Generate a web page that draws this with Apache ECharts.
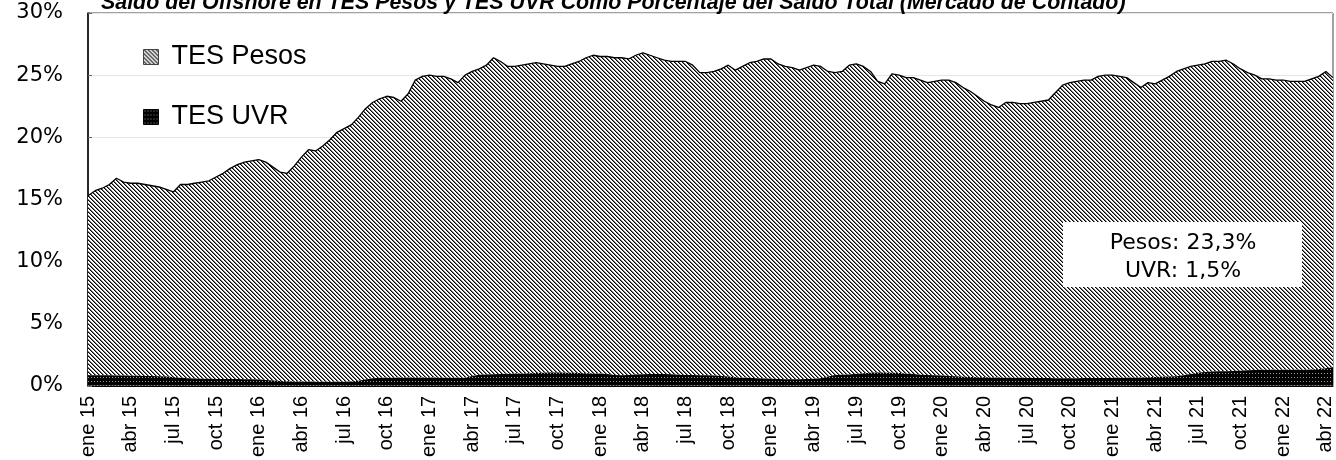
<!DOCTYPE html>
<html>
<head>
<meta charset="utf-8">
<script src="https://cdn.jsdelivr.net/npm/echarts@6/dist/echarts.min.js"></script>
<style>
  html, body { margin: 0; padding: 0; background: #fff; }
  #chart { width: 1336px; height: 460px; }
</style>
</head>
<body>
<div id="chart"></div>
<script>
// Spanish month names for the quarterly tick labels
const meses = ['ene', 'feb', 'mar', 'abr', 'may', 'jun', 'jul', 'ago', 'sep', 'oct', 'nov', 'dic'];

// TES UVR share of total (%), two readings per month, ene 15 .. abr 22
const uvr = [
  0.86, 0.86, 0.85, 0.85, 0.84, 0.83, 0.82, 0.82, 0.80, 0.79, 0.78, 0.76,
  0.72, 0.66, 0.60, 0.58, 0.57, 0.56, 0.55, 0.55, 0.55, 0.54, 0.53, 0.52,
  0.50, 0.47, 0.42, 0.38, 0.36, 0.35, 0.34, 0.34, 0.33, 0.33, 0.32, 0.32,
  0.33, 0.35, 0.40, 0.50, 0.60, 0.65, 0.66, 0.66, 0.67, 0.67, 0.68, 0.68,
  0.68, 0.67, 0.66, 0.65, 0.64, 0.64, 0.80, 0.90, 0.92, 0.93, 0.95, 0.97,
  0.99, 1.00, 1.02, 1.04, 1.06, 1.07, 1.07, 1.06, 1.05, 1.04, 1.02, 1.00,
  1.00, 0.95, 0.88, 0.86, 0.88, 0.92, 0.94, 0.96, 0.96, 0.95, 0.93, 0.90,
  0.88, 0.87, 0.86, 0.86, 0.84, 0.80, 0.75, 0.70, 0.66, 0.64, 0.60, 0.58,
  0.56, 0.54, 0.53, 0.53, 0.53, 0.54, 0.56, 0.60, 0.75, 0.88, 0.90, 0.92,
  0.98, 1.02, 1.05, 1.07, 1.06, 1.05, 1.04, 1.00, 0.95, 0.90, 0.88, 0.86,
  0.83, 0.80, 0.77, 0.74, 0.72, 0.70, 0.69, 0.68, 0.67, 0.66, 0.66, 0.65,
  0.64, 0.63, 0.62, 0.62, 0.61, 0.61, 0.61, 0.61, 0.62, 0.62, 0.62, 0.63,
  0.64, 0.65, 0.66, 0.67, 0.68, 0.70, 0.72, 0.74, 0.76, 0.78, 0.85, 0.95,
  1.05, 1.12, 1.15, 1.17, 1.18, 1.20, 1.22, 1.25, 1.28, 1.30, 1.30, 1.30,
  1.30, 1.30, 1.30, 1.30, 1.32, 1.35, 1.42, 1.50
];

// TES Pesos share of total (%), stacked on top of UVR
const pesos = [
  14.44, 14.84, 15.05, 15.35, 15.86, 15.57, 15.48, 15.48, 15.40, 15.31, 15.22, 15.04,
  14.88, 15.54, 15.60, 15.72, 15.83, 15.94, 16.25, 16.55, 16.95, 17.26, 17.47, 17.58,
  17.70, 17.53, 17.18, 16.82, 16.74, 17.35, 18.06, 18.66, 18.57, 18.97, 19.48, 20.08,
  20.37, 20.65, 21.20, 21.80, 22.20, 22.45, 22.64, 22.54, 22.23, 22.83, 23.92, 24.22,
  24.32, 24.23, 24.24, 24.05, 23.76, 24.36, 24.50, 24.60, 24.88, 25.47, 25.15, 24.73,
  24.71, 24.80, 24.88, 24.96, 24.84, 24.73, 24.63, 24.64, 24.85, 25.06, 25.38, 25.60,
  25.50, 25.55, 25.52, 25.54, 25.42, 25.68, 25.86, 25.64, 25.44, 25.25, 25.17, 25.20,
  25.22, 24.93, 24.34, 24.34, 24.46, 24.70, 25.05, 24.70, 25.04, 25.36, 25.50, 25.72,
  25.74, 25.36, 25.17, 25.07, 24.87, 25.06, 25.24, 25.10, 24.55, 24.32, 24.40, 24.88,
  24.92, 24.68, 24.25, 23.43, 23.24, 24.05, 23.96, 23.80, 23.85, 23.70, 23.52, 23.64,
  23.77, 23.80, 23.63, 23.26, 22.98, 22.60, 22.21, 21.92, 21.73, 22.14, 22.14, 22.05,
  22.06, 22.17, 22.28, 22.38, 22.99, 23.59, 23.79, 23.89, 23.98, 23.98, 24.28, 24.37,
  24.36, 24.25, 24.14, 23.73, 23.32, 23.70, 23.58, 23.86, 24.14, 24.52, 24.65, 24.75,
  24.75, 24.78, 24.95, 24.93, 25.02, 24.70, 24.28, 23.95, 23.72, 23.40, 23.40, 23.30,
  23.30, 23.20, 23.20, 23.20, 23.38, 23.55, 23.88, 23.30
];

const seriesNames = ['TES Pesos', 'TES UVR'];
const boxLines = ['Pesos: 23,3%', 'UVR: 1,5%'];
const titleText = 'Saldo del Offshore en TES Pesos y TES UVR Como Porcentaje del Saldo Total (Mercado de Contado)';

// two category slots per month; label "mes yy" on the first half only
const categories = [];
for (let y = 15; y <= 22; y++) {
  for (let m = 0; m < 12; m++) {
    if (y === 22 && m > 3) break;
    categories.push(meses[m] + ' ' + y + '|a');
    categories.push(meses[m] + ' ' + y + '|b');
  }
}

// fill patterns
function hatchPattern() {
  const n = 4;
  const c = document.createElement('canvas');
  c.width = n; c.height = n;
  const ctx = c.getContext('2d');
  ctx.fillStyle = '#fff';
  ctx.fillRect(0, 0, n, n);
  for (let y = 0; y < n; y++) {
    for (let x = 0; x < n; x++) {
      const d = ((x - y) % n + n) % n;
      if (d === 0) { ctx.fillStyle = '#000'; ctx.fillRect(x, y, 1, 1); }
      if (d === 1) { ctx.fillStyle = '#777'; ctx.fillRect(x, y, 1, 1); }
    }
  }
  return { image: c, repeat: 'repeat' };
}
function dotPattern() {
  const c = document.createElement('canvas');
  c.width = 3; c.height = 4;
  const ctx = c.getContext('2d');
  ctx.fillStyle = '#000';
  ctx.fillRect(0, 0, 3, 4);
  ctx.fillStyle = '#9a9a9a';
  ctx.fillRect(1, 1, 1, 1);
  return { image: c, repeat: 'repeat' };
}
const hatch = hatchPattern();
const dots = dotPattern();

const chart = echarts.init(document.getElementById('chart'), null, { renderer: 'canvas' });
const font = 'Liberation Sans, Arial, sans-serif';
const wideFont = 'DejaVu Sans, sans-serif';

chart.setOption({
  animation: false,
  title: {
    text: titleText,
    left: 96,
    top: -12,
    textStyle: { fontFamily: font, fontSize: 21.4, fontWeight: 'bold', fontStyle: 'italic', color: '#000' }
  },
  legend: {
    orient: 'vertical',
    left: 138,
    top: 36,
    itemGap: 28,
    itemWidth: 15,
    itemHeight: 15,
    icon: 'rect',
    textStyle: { fontFamily: font, fontSize: 27, color: '#000', lineHeight: 32, padding: [0, 0, 0, 8] },
    data: [
      { name: seriesNames[0], itemStyle: { color: hatch, borderColor: '#444', borderWidth: 1 } },
      { name: seriesNames[1], itemStyle: { color: dots, borderColor: '#000', borderWidth: 1 } }
    ]
  },
  grid: {
    left: 88, right: 3, top: 13, bottom: 73,
    show: true, borderColor: '#444', borderWidth: 1, backgroundColor: 'transparent'
  },
  xAxis: {
    type: 'category',
    data: categories,
    boundaryGap: false,
    axisLine: { lineStyle: { color: '#000', width: 1 } },
    axisTick: { show: false },
    axisLabel: {
      rotate: 90,
      margin: 10,
      interval: (idx) => idx % 6 === 0,
      formatter: (v) => v.split('|')[0],
      fontFamily: font,
      fontSize: 20,
      color: '#000'
    },
    splitLine: { show: false }
  },
  yAxis: {
    type: 'value',
    min: 0,
    max: 30,
    interval: 5,
    axisLine: { show: true, lineStyle: { color: '#000', width: 1.5 } },
    axisTick: { show: true, inside: true, length: 4, lineStyle: { color: '#666' } },
    axisLabel: {
      formatter: '{value}%',
      margin: 25,
      fontFamily: wideFont,
      fontSize: 21,
      color: '#000'
    },
    splitLine: { show: true, lineStyle: { color: '#e6e6e6', width: 1 } }
  },
  series: [
    {
      name: seriesNames[1],
      type: 'line',
      stack: 'saldo',
      data: uvr,
      showSymbol: false,
      lineStyle: { width: 0, color: '#000' },
      itemStyle: { color: '#000' },
      areaStyle: { color: dots, opacity: 1 },
      z: 3
    },
    {
      name: seriesNames[0],
      type: 'line',
      stack: 'saldo',
      data: pesos,
      showSymbol: false,
      lineStyle: { width: 1.3, color: '#000' },
      itemStyle: { color: '#666' },
      areaStyle: { color: hatch, opacity: 1 },
      z: 2
    }
  ],
  graphic: [
    {
      type: 'group',
      left: 1063,
      top: 222,
      z: 100,
      children: [
        { type: 'rect', z: 100, shape: { x: 0, y: 0, width: 239, height: 65 }, style: { fill: '#fff' } },
        {
          type: 'text', z: 101, x: 120, y: 21,
          style: { text: boxLines[0], font: '22px ' + wideFont, fill: '#000', align: 'center', verticalAlign: 'middle' }
        },
        {
          type: 'text', z: 101, x: 120, y: 49,
          style: { text: boxLines[1], font: '22px ' + wideFont, fill: '#000', align: 'center', verticalAlign: 'middle' }
        }
      ]
    }
  ]
});
</script>
</body>
</html>
